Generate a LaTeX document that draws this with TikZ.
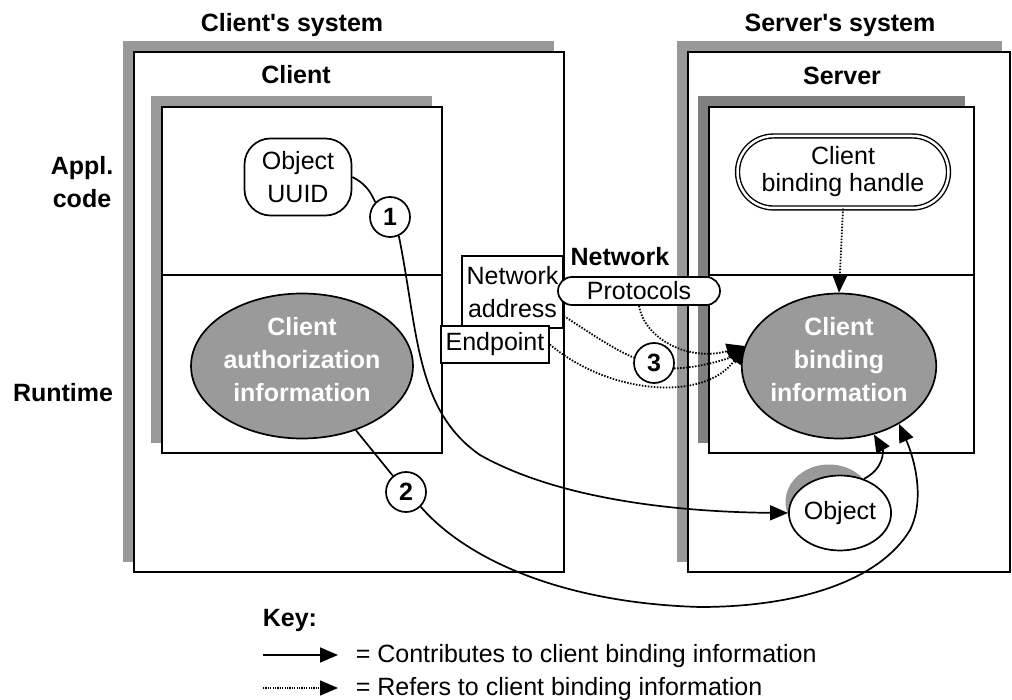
\documentclass[tikz,border=0pt]{standalone}
\usepackage{fontspec}
\setmainfont{Liberation Sans}[Ligatures=TeXOff]
\usetikzlibrary{shapes.geometric,arrows.meta}
\definecolor{shadegray}{HTML}{999999}
\definecolor{darkshade}{HTML}{808080}
\definecolor{fillgray}{HTML}{9A9A9A}
\begin{document}
\begin{tikzpicture}[x=1pt,y=-1pt,line width=1.7pt,inner sep=0pt,
    font=\fontsize{25}{33}\selectfont,
    title/.style={font=\fontsize{25}{33}\selectfont\bfseries,anchor=base},
    infoblob/.style={ellipse,draw,fill=fillgray,text=white,
      font=\fontsize{25}{33}\selectfont\bfseries,align=center,
      minimum width=178pt,minimum height=145pt,text depth=13pt},
    stepmark/.style={circle,draw,fill=white,minimum size=40pt,
      font=\fontsize{25}{33}\selectfont\bfseries},
    tagbox/.style={draw,fill=white,align=center},
    contrib/.style={-{Triangle[length=18pt,width=15pt]}},
    dotline/.style={line width=1.8pt,dash pattern=on 1.5pt off 1.5pt},
    refers/.style={dotline,-{Triangle[length=18pt,width=15pt]}}]
    \useasboundingbox (0,0) rectangle (1012,700);
    %% client's system
    \fill[shadegray] (123,41) rectangle (554,562);
    \draw[fill=white] (134,52) rectangle (564,572);
    \fill[shadegray] (151,96) rectangle (432,443);
    \draw[fill=white] (162,107) rectangle (442,453);
    \draw (162,275) -- (442,275);
    %% server's system
    \fill[shadegray] (677,41) rectangle (1002,562);
    \draw[fill=white] (688,52) rectangle (1010,572);
    \fill[darkshade] (698,96) rectangle (965,443);
    \draw[fill=white] (709,107) rectangle (974,453);
    \draw (709,275) -- (974,275);
    %% labels
    \node[title] (clientsys) at (292,32) {Client\textquotesingle s system};
    \node[title] (serversys) at (840,32) {Server\textquotesingle s system};
    \node[title] (clientlbl) at (296,84) {Client};
    \node[title] (serverlbl) at (842,85) {Server};
    \node[title,anchor=center,align=center] (appl) at (82,182) {Appl.\\code};
    \node[title] (runtime) at (63,402) {Runtime};
    %% client side
    \node[tagbox,rounded corners=26pt,minimum width=107pt,minimum height=77pt] (uuid) at (298,177) {Object\\UUID};
    \node[infoblob] (auth) at (302,366) {Client\\authorization\\information};
    %% network
    \node[tagbox,minimum width=101pt,minimum height=72pt] (netaddr) at (512.5,292) {Network\\address};
    \node[tagbox,minimum width=108pt,minimum height=37pt] (endpt) at (495,344.5) {Endpoint};
    \node[title] (network) at (620,266) {Network};
    \node[tagbox,rounded corners=14pt,minimum width=162pt,minimum height=28pt] (protocols) at (639,291) {Protocols};
    %% server side
    \node[tagbox,line width=1.4pt,double,double distance=2.5pt,rounded corners=36pt,
      minimum width=211pt,minimum height=72pt,font=\fontsize{25}{27}\selectfont] (handle) at (843,172) {Client\\binding handle};
    \node[infoblob] (bindinfo) at (839,366) {Client\\binding\\information};
    \node[ellipse,fill=shadegray,minimum width=87pt,minimum height=75pt] (objshade) at (829,502) {};
    \node[ellipse,draw,fill=white,minimum width=87pt,minimum height=75pt] (object) at (840,513) {Object};
    %% steps
    \node[stepmark] (c1) at (390,217) {1};
    \node[stepmark] (c2) at (406,492) {2};
    \node[stepmark] (c3) at (654,363) {3};
    %% contributes
    \draw (uuid.east) .. controls (364,183) and (370,190) .. (c1.135);
    \draw[contrib] (c1.-65) .. controls (418,330) and (415,410) .. (480,455)
      .. controls (560,500) and (680,512) .. (object.west);
    \draw (auth.-50) -- (c2);
    \draw[contrib] (c2.-45) .. controls (465,558) and (560,603) .. (700,607)
      .. controls (800,607) and (880,580) .. (910,530)
      .. controls (925,500) and (915,460) .. (bindinfo.-44);
    \draw[contrib] (object.55) .. controls (885,468) and (883,450) .. (bindinfo.-63);
    %% refers
    \draw[refers] (handle.south) -- (bindinfo.north);
    \draw[dotline] (netaddr.-25) .. controls (590,333) and (615,350) .. (c3.165);
    \draw[refers] (c3.-15) .. controls (700,368) and (730,358) .. (bindinfo.168);
    \draw[refers] (endpt.east) .. controls (610,395) and (705,402) .. (bindinfo.168);
    \draw[refers] (protocols.south) .. controls (645,340) and (690,362) .. (bindinfo.168);
    %% key
    \node[title,anchor=base west] (key) at (262,626) {Key:};
    \coordinate (keyA) at (263,655);
    \coordinate (keyB) at (338,655);
    \draw[contrib] (keyA) -- (keyB);
    \node[anchor=base west] (keycontrib) at (355,662) {= Contributes to client binding information};
    \coordinate (keyC) at (263,688);
    \coordinate (keyD) at (338,688);
    \draw[refers,line width=1.4pt,dash pattern=on 1.2pt off 1.2pt] (keyC) -- (keyD);
    \node[anchor=base west] (keyrefers) at (355,695) {= Refers to client binding information};
\end{tikzpicture}
\end{document}
